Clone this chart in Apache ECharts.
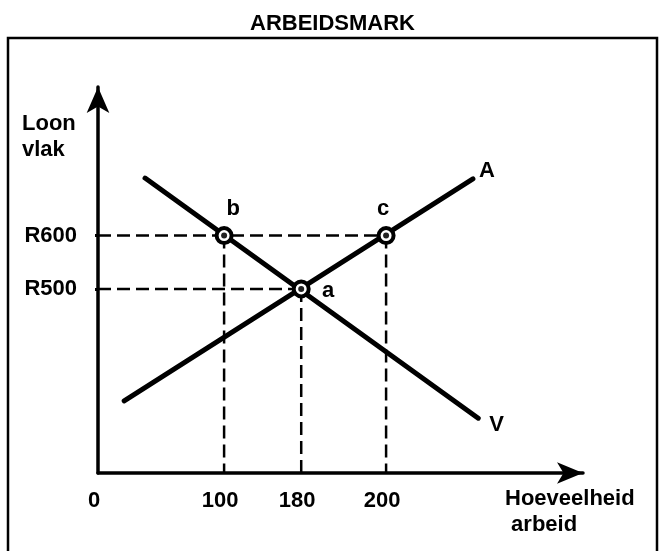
<!DOCTYPE html>
<html>
<head>
<meta charset="utf-8">
<script src="https://cdn.jsdelivr.net/npm/echarts@6/dist/echarts.min.js"></script>
<style>
  html, body { margin: 0; padding: 0; background: #fff; }
  #chart { width: 665px; height: 551px; }
</style>
</head>
<body>
<div id="chart"></div>
<script>
// Schematic diagram (not to scale): positions are on a 0-100 schematic scale
const quantityTicks = ['0', '100', '180', '200'];
const quantityPos   = [0, 26.0, 41.9, 59.4];
const wageTicks = ['R500', 'R600'];
const wagePos   = [47.7, 61.5];
// Supply (A) and demand (V) lines, schematic endpoints
const supplyA = [[5.4, 18.7], [77.3, 76.2]];
const demandV = [[9.7, 76.4], [78.4, 14.2]];
// Named points: name, quantity index, wage index
const pointNames = ['a', 'b', 'c'];
const pointQ = [2, 1, 3];
const pointW = [0, 1, 1];

const FONT = "'Liberation Sans', Arial, sans-serif";
const FS = 22;
const pts = pointNames.map((n, i) => [quantityPos[pointQ[i]], wagePos[pointW[i]]]);
const labelOffsets = { a: [27, 2], b: [9, -27], c: [-3, -27] };
const txt = { color: '#000', fontFamily: FONT, fontWeight: 'bold', fontSize: FS, textBorderWidth: 0 };

const dashStyle = { color: '#000', width: 2.5, type: [13, 6] };
const dashed = [];
wagePos.forEach((w, wi) => {
  const xs = pts.filter((p, i) => pointW[i] === wi).map(p => p[0]);
  dashed.push([[0, w], [Math.max(...xs), w]]);
});
pts.forEach(p => dashed.push([[p[0], p[1]], [p[0], 0]]));

const series = [];
dashed.forEach(d => series.push({
  type: 'line', data: d, symbol: 'none', silent: true,
  lineStyle: dashStyle, z: 2
}));
function mainLine(name, d, dist, off) {
  return {
    type: 'line', name: name, symbol: 'none', z: 3,
    lineStyle: { color: '#000', width: 5, cap: 'round' },
    data: d,
    endLabel: Object.assign({ show: true, formatter: name, distance: dist, offset: off }, txt)
  };
}
series.push(mainLine('A', supplyA, 6, [0, -8]));
series.push(mainLine('V', demandV, 11, [0, 7]));
series.push({
  type: 'scatter', z: 4, symbol: 'circle', symbolSize: 15,
  itemStyle: { color: '#fff', borderColor: '#000', borderWidth: 4, opacity: 1 },
  data: pts.map((p, i) => ({ name: pointNames[i], value: p,
    label: Object.assign({ show: true, formatter: '{b}', position: 'inside',
      offset: labelOffsets[pointNames[i]] }, txt) }))
});
series.push({
  type: 'scatter', z: 5, symbol: 'circle', symbolSize: 6, silent: true,
  itemStyle: { color: '#222', opacity: 1 }, data: pts
});

const chart = echarts.init(document.getElementById('chart'));
chart.setOption({
  backgroundColor: '#fff',
  animation: false,
  title: {
    text: 'ARBEIDSMARK', left: 'center', top: 8,
    textStyle: { fontFamily: FONT, fontWeight: 'bold', fontSize: 22, color: '#000' }
  },
  grid: { left: 98, right: 82, top: 87, bottom: 78 },
  xAxis: {
    type: 'value', min: 0, max: 100,
    splitLine: { show: false },
    axisLine: { show: true, onZero: false, symbol: ['none', 'arrow'], symbolSize: [16, 26],
      lineStyle: { color: '#000', width: 3.5 } },
    axisTick: { show: false },
    axisLabel: Object.assign({
      customValues: quantityPos, margin: 17, padding: [0, 8, 0, 0],
      formatter: v => quantityTicks[quantityPos.indexOf(v)] ?? ''
    }, txt)
  },
  yAxis: {
    type: 'value', min: 0, max: 100,
    splitLine: { show: false },
    axisLine: { show: true, onZero: false, symbol: ['none', 'arrow'], symbolSize: [17, 26],
      lineStyle: { color: '#000', width: 3.5 } },
    axisTick: { show: true, customValues: wagePos, length: 3, lineStyle: { color: '#000', width: 3 } },
    axisLabel: Object.assign({
      customValues: wagePos, margin: 21,
      formatter: v => wageTicks[wagePos.indexOf(v)] ?? ''
    }, txt)
  },
  graphic: [
    { type: 'rect', shape: { x: 8, y: 38, width: 649, height: 600 },
      style: { fill: 'none', stroke: '#000', lineWidth: 2.5 }, silent: true },
    { type: 'text', left: 22, top: 111,
      style: { text: 'Loon\nvlak', fontFamily: FONT, fontWeight: 'bold', fontSize: FS, lineHeight: 26, fill: '#000' } },
    { type: 'text', left: 505, top: 486,
      style: { text: 'Hoeveelheid\n arbeid', fontFamily: FONT, fontWeight: 'bold', fontSize: FS, lineHeight: 26, fill: '#000' } }
  ],
  series: series
});
</script>
</body>
</html>
